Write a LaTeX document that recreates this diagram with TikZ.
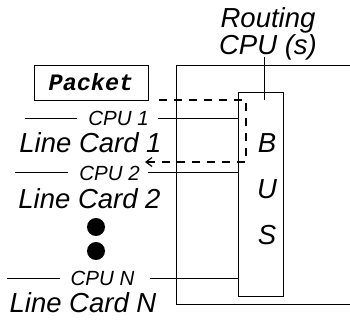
\documentclass[tikz,border=0pt]{standalone}
\usepackage{fontspec}
\setmainfont{Liberation Sans}
\newfontfamily\monob{Liberation Mono}
\usetikzlibrary{arrows.meta}
\begin{document}
\begin{tikzpicture}[x=1pt,y=-1pt,
  ln/.style={line width=0.9pt},
  big/.style={font=\fontsize{27.5}{28}\selectfont\itshape, inner sep=0pt},
  cpu/.style={font=\fontsize{20.5}{21}\selectfont\itshape, inner sep=0pt},
  dot/.style={circle, fill=black, minimum size=18pt, inner sep=0pt}]
\useasboundingbox (0,0) rectangle (350,320);
% frame
\draw[ln] (350,65) -- (176,65) -- (176,304) -- (350,304);
% bus
\node[draw, ln, minimum width=45pt, minimum height=204pt, inner sep=0pt] (bus) at (260.5,194) {};
\node[big] (b) at (267,143) {B};
\node[big] (u) at (267,189) {U};
\node[big] (s) at (267,235) {S};
% routing cpu
\node[big, align=center, font=\fontsize{27.5}{27}\selectfont\itshape] (routing) at (268,34) {Routing\\CPU (s)};
\coordinate (rtop) at (264,57);
\coordinate (rend) at (264,100);
\draw[ln] (rtop) -- (rend);
% packet
\node[draw, ln, minimum width=114pt, minimum height=35pt, inner sep=0pt,
  font=\fontsize{23.5}{23}\selectfont\monob\bfseries\itshape] (packet) at (91,82.5) {Packet};
% dashed path
\coordinate (dstart) at (159,100);
\coordinate (dc1) at (246,100);
\coordinate (dc2) at (246,162);
\coordinate (dend) at (145,162);
\draw[line width=1.2pt, dash pattern=on 8pt off 7pt, -{Straight Barb[length=6pt,width=9pt]}] (dstart) -- (dc1) -- (dc2) -- (dend);
% CPU 1
\node[cpu] (cpu1) at (118.5,118) {CPU 1};
\coordinate (l1a) at (25,118);
\coordinate (l1b) at (77,118);
\coordinate (r1a) at (158,118);
\draw[ln] (l1a) -- (l1b);
\draw[ln] (r1a) -- (bus.west |- r1a);
\node[big] (lc1) at (90.5,143) {Line Card 1};
% CPU 2
\node[cpu] (cpu2) at (109.5,173) {CPU 2};
\coordinate (l2a) at (15,172);
\coordinate (l2b) at (68,172);
\coordinate (r2a) at (148,172);
\draw[ln] (l2a) -- (l2b);
\draw[ln] (r2a) -- (bus.west |- r2a);
\node[big] (lc2) at (89.5,199) {Line Card 2};
% dots
\node[dot] (d1) at (96,227) {};
\node[dot] (d2) at (96,251) {};
% CPU N
\node[cpu] (cpun) at (102.5,278) {CPU N};
\coordinate (lna) at (7,278);
\coordinate (lnb) at (60,278);
\coordinate (rna) at (150,278);
\draw[ln] (lna) -- (lnb);
\draw[ln] (rna) -- (bus.west |- rna);
\node[big] (lcn) at (83,303) {Line Card N};
\end{tikzpicture}
\end{document}
